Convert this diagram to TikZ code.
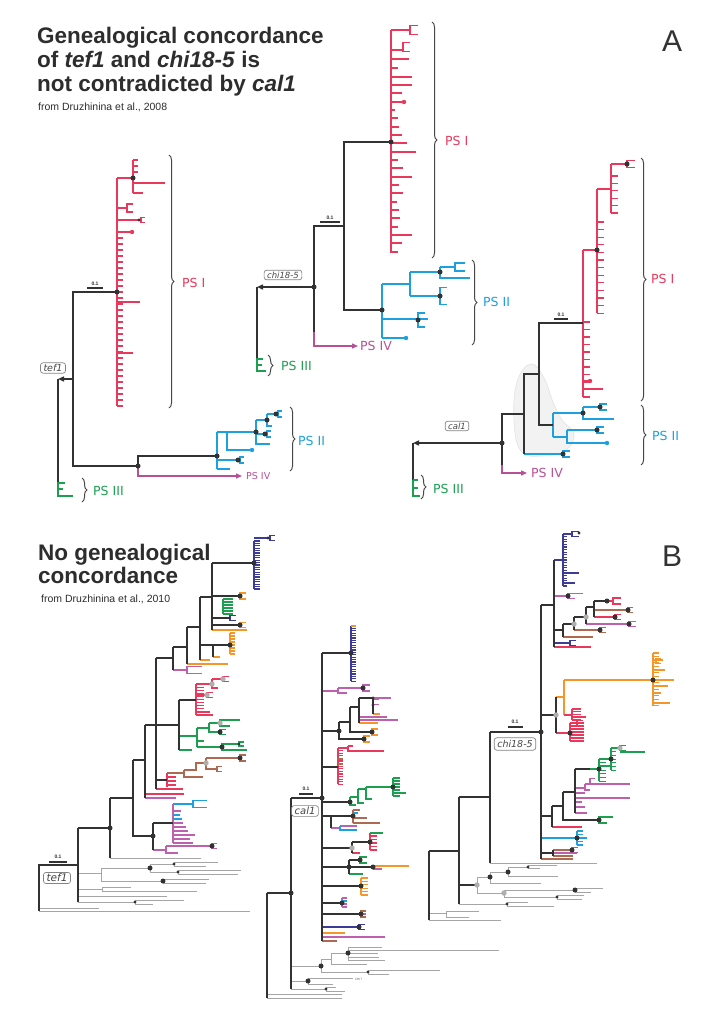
\documentclass[tikz,border=0pt]{standalone}
\usepackage{fontspec}
\setmainfont{Liberation Sans}
\newfontfamily\dv{DejaVu Sans}[ItalicFont={DejaVu Sans Oblique}]
\usetikzlibrary{arrows.meta,decorations.pathreplacing}
\definecolor{rd}{RGB}{234,56,92}
\definecolor{bl}{RGB}{28,160,222}
\definecolor{gn}{RGB}{28,160,80}
\definecolor{mg}{RGB}{184,80,150}
\definecolor{mgb}{RGB}{190,95,175}
\definecolor{org}{RGB}{247,150,40}
\definecolor{brn}{RGB}{175,105,80}
\definecolor{nv}{RGB}{60,60,150}
\definecolor{dk}{RGB}{50,50,50}
\definecolor{gy}{RGB}{165,165,165}
\definecolor{gyd}{RGB}{175,175,175}
\definecolor{lbl}{RGB}{70,70,70}
\newcommand\cmb[6]{\draw[#1] (#2,#3) -- (#2,{#3+#4*#5});\foreach \i in {0,...,#4}{\draw[#1] (#2,{#3+\i*#5}) -- ++(#6,0);}}
\newcommand\fk[5]{\draw[#1] ({#2+#5},{#3-#4}) -- (#2,{#3-#4}) -- (#2,{#3+#4}) -- ({#2+#5},{#3+#4});}
\newcommand\fkk[6]{\draw[#1] ({#2+#5},{#3-#4}) -- (#2,{#3-#4}) -- (#2,{#3+#4}) -- ({#2+#6},{#3+#4});}
\newcommand\dt[2]{\fill[dk] (#1,#2) circle (2.5pt);}
\newcommand\sdt[2]{\fill[dk] (#1,#2) circle (1.7pt);}
\newcommand\gdt[2]{\fill[gyd] (#1,#2) circle (2.7pt);}
\newcommand\cdt[3]{\fill[#1] (#2,#3) circle (2.2pt);}
\newcommand\psf{\dv\fontsize{12.5}{14}\selectfont}
\newcommand\ttl{\fontsize{22.5}{24}\selectfont\bfseries}
\begin{document}
\begin{tikzpicture}[x=1pt,y=-1pt,
  ka/.style={draw=dk,line width=1.4pt},
  ra/.style={draw=rd,line width=1.3pt},
  ba/.style={draw=bl,line width=1.3pt},
  ga/.style={draw=gn,line width=1.3pt},
  ma/.style={draw=mg,line width=1.3pt},
  kb/.style={draw=dk,line width=1.6pt},
  yb/.style={draw=gy,line width=1pt},
  rb/.style={draw=rd,line width=1.1pt},
  bb/.style={draw=bl,line width=1.1pt},
  gb/.style={draw=gn,line width=1.1pt},
  mb/.style={draw=mgb,line width=1.1pt},
  ob/.style={draw=org,line width=1.1pt},
  brb/.style={draw=brn,line width=1.1pt},
  nb/.style={draw=nv,line width=1.1pt},
  tri/.style={-{Triangle[length=6pt,width=5pt]}},
  brc/.style={draw=dk!90,line width=1pt,decorate,decoration={brace,amplitude=5pt}},
  tag/.style={draw=gy!80!black,rounded corners=2.5pt,line width=0.7pt,inner xsep=3pt,inner ysep=1.5pt,text=lbl,fill=white},
  sbar/.style={draw=dk,line width=1.2pt},
  sbt/.style={font=\bfseries\fontsize{5}{5}\selectfont,text=dk,inner sep=0pt},
  ttln/.style={anchor=base west,inner sep=0pt,text=dk!90!black}
]
\useasboundingbox (0,0) rectangle (715,1024);
\fill[white] (0,0) rectangle (715,1024);

% ================= TITLES
\node[ttln,font=\ttl] (t1) at (37,44) {Genealogical concordance};
\node[ttln,font=\ttl] (t2) at (37,68) {of \textit{tef1} and \textit{chi18-5} is};
\node[ttln,font=\ttl] (t3) at (37,92) {not contradicted by \textit{cal1}};
\node[ttln,font=\fontsize{10.5}{12}\selectfont] (s1) at (38,111) {from Druzhinina et al., 2008};
\node[font=\fontsize{30}{30}\selectfont,text=dk] (lA) at (672,41) {A};
\node[ttln,font=\ttl] (t4) at (38,560) {No genealogical};
\node[ttln,font=\ttl] (t5) at (38,583) {concordance};
\node[ttln,font=\fontsize{10.5}{12}\selectfont] (s2) at (41,602) {from Druzhinina et al., 2010};
\node[font=\fontsize{30}{30}\selectfont,text=dk] (lB) at (672,556) {B};

% ================= A1 tef1
\draw[ra] (117,178) -- (117,406);
\draw[ra] (117,178) -- (133,178);
\draw[ra] (133,160) -- (133,193);
\foreach \y/\q in {160/5,166/5,172/5,183/32,193/10} \draw[ra] (133,\y) -- ++(\q,0);
\draw[ra] (117,208) -- (127,208);
\fk{ra}{127}{208}{4}{6}
\draw[ra] (117,220) -- (139,220);
\fk{ra}{141}{220}{2.5}{4}
\sdt{139}{220}
\draw[ra] (117,232) -- (132,232);
\cdt{rd}{132}{232}
\cmb{ra}{117}{238}{28}{6}{6}
\draw[ra] (117,302) -- (140,302);
\draw[ra] (117,353) -- (133,353);
% blue
\draw[ba] (217,432) -- (217,469);
\draw[ba] (217,432) -- (227,432) -- (227,450) -- (252,450);
\draw[ba] (217,469) -- (230,469);
\draw[ba] (217,460) -- (238,460);
\fk{ba}{240}{460}{3}{4}
\draw[ba] (227,432) -- (256,432);
\draw[ba] (256,420) -- (256,444) -- (270,444);
\draw[ba] (256,420) -- (267,420);
\draw[ba] (267,414) -- (267,426) -- (272,426);
\draw[ba] (267,414) -- (276,414);
\fk{ba}{278}{414}{3}{4}
\draw[ba] (256,434) -- (265,434);
\fk{ba}{267}{434}{3}{4}
\cdt{bl}{252}{450}
% black
\draw[ka] (117,292) -- (73,292) -- (73,466) -- (138,466);
\draw[ka] (138,466) -- (138,456) -- (217,456);
\draw[ka,tri] (73,379) -- (58,379);
\draw[ka] (58,379) -- (58,482);
\draw[ga] (58,482) -- (58,497);
\foreach \y/\q in {483/7,489/5,496/15} \draw[ga] (58,\y) -- ++(\q,0);
\draw[ma,tri] (138,466) -- (138,476) -- (242,476);
\foreach \p in {(117,292),(138,466),(133,178),(217,456),(238,460),(256,432),(267,420),(276,414),(265,434)} \fill[dk] \p circle (2.5pt);
\draw[sbar] (87,288) -- (103,288);
\node[sbt] (sb1) at (95,284) {0.1};
\node[tag,font=\dv\itshape\fontsize{9.5}{10}\selectfont] (tef1a) at (53,368) {tef1};
\draw[brc] (169,155) -- (169,408);
\node[anchor=west,text=rd,font=\psf,inner sep=0pt] (ps1a) at (182,283) {PS I};
\draw[brc] (290,407) -- (290,471);
\node[anchor=west,text=bl,font=\psf,inner sep=0pt] (ps2a) at (298,441) {PS II};
\draw[brc] (82,478) -- (82,502);
\node[anchor=west,text=gn,font=\psf,inner sep=0pt] (ps3a) at (93,491) {PS III};
\node[anchor=west,text=mg,font=\dv\fontsize{9.5}{11}\selectfont,inner sep=0pt] (ps4a) at (246,476) {PS IV};

% ================= A2 chi18-5
\draw[ra] (391,30) -- (391,253);
\draw[ra] (391,30) -- (410,30);
\fk{ra}{410}{30}{4.5}{8}
\draw[ra] (391,50) -- (403,50);
\fk{ra}{403}{47}{4.5}{7}
\foreach \y/\q in {59/18,68/7,77/21,85/21,93/11,102/13,110/4,118/7,127/8,135/11,143/16,152/25,160/7,168/12,177/21,185/8,193/12,202/6,210/8,218/9,227/7,235/21,243/11,252/7} \draw[ra] (391,\y) -- ++(\q,0);
\cdt{rd}{404}{102}
% blue
\draw[ba] (382,284) -- (382,338);
\draw[ba] (382,284) -- (410,284);
\draw[ba] (382,319) -- (428,319);
\fk{ba}{418}{320}{7}{7}
\draw[ba] (382,338) -- (406,338);
\cdt{bl}{406}{338}
\draw[ba] (410,272) -- (410,296);
\draw[ba] (410,272) -- (440,272);
\draw[ba] (410,296) -- (440,296);
\draw[ba] (440,267) -- (440,278) -- (470,278);
\draw[ba] (440,267) -- (455,267);
\fk{ba}{455}{267}{4}{10}
\fk{ba}{440}{296}{8.5}{7}
% black
\draw[ka] (391,142) -- (344,142) -- (344,310) -- (382,310);
\draw[ka] (344,226) -- (314,226) -- (314,332);
\draw[ma,tri] (314,332) -- (314,346) -- (358,346);
\draw[ka,tri] (314,287) -- (257,287);
\draw[ka] (257,287) -- (257,358);
\draw[ga] (257,358) -- (257,372);
\foreach \y/\q in {359/6,365/5,371/9} \draw[ga] (257,\y) -- ++(\q,0);
\foreach \p in {(391,142),(382,310),(314,287),(418,320),(440,272),(440,296)} \fill[dk] \p circle (2.5pt);
\draw[sbar] (320,222) -- (340,222);
\node[sbt] (sb2) at (330,218) {0.1};
\node[tag,font=\dv\itshape\fontsize{8.5}{9}\selectfont] (chia) at (283,275) {chi18-5};
\draw[brc] (432,22) -- (432,258);
\node[anchor=west,text=rd,font=\psf,inner sep=0pt] (ps1b) at (445,141) {PS I};
\draw[brc] (472,260) -- (472,345);
\node[anchor=west,text=bl,font=\psf,inner sep=0pt] (ps2b) at (483,302) {PS II};
\draw[brc] (268,355) -- (268,376);
\node[anchor=west,text=gn,font=\psf,inner sep=0pt] (ps3b) at (281,366) {PS III};
\node[anchor=west,text=mg,font=\psf,inner sep=0pt] (ps4b) at (360,346) {PS IV};

% ================= A3 cal1
\fill[gray!10,draw=gray!22,line width=0.6pt] plot[smooth cycle,tension=0.7] coordinates {(531,364) (544,378) (553,402) (562,420) (574,434) (566,450) (543,456) (521,451) (514,420) (517,382)};
\draw[ra] (583,250) -- (583,397);
\draw[ra] (583,250) -- (597,250);
\draw[ra] (597,189) -- (597,313);
\cmb{ra}{597}{222}{12}{7.6}{7}
\draw[ra] (597,189) -- (611,189);
\draw[ra] (611,164) -- (611,213);
\cmb{ra}{611}{176}{5}{7.4}{7}
\draw[ra] (611,164) -- (627,164);
\fk{ra}{627}{164}{3.5}{8}
\cmb{ra}{583}{322}{10}{7.5}{7}
\draw[ra] (583,381) -- (590,381);
\cdt{rd}{590}{381}
\draw[ra] (583,389) -- (603,389);
% blue
\draw[ba] (553,413) -- (553,437);
\draw[ba] (553,413) -- (583,413);
\draw[ba] (583,407) -- (583,419) -- (614,419);
\draw[ba] (583,407) -- (600,407);
\fk{ba}{600}{407}{3}{7}
\draw[ba] (553,437) -- (567,437);
\draw[ba] (567,430) -- (567,443) -- (607,443);
\draw[ba] (567,430) -- (597,430);
\fk{ba}{597}{430}{3}{7}
\cdt{bl}{607}{443}
\draw[ba] (524,454) -- (563,454);
\fk{ba}{563}{454}{3}{7}
% black
\draw[ka] (583,323) -- (539,323) -- (539,425) -- (553,425);
\draw[ka] (539,374) -- (524,374) -- (524,454);
\draw[ka] (524,414) -- (502,414) -- (502,465);
\draw[ma,tri] (502,465) -- (502,473) -- (527,473);
\draw[ka,tri] (502,443) -- (413,443);
\draw[ka] (413,443) -- (413,480);
\draw[ga] (413,480) -- (413,497);
\foreach \y/\q in {480/5,488/5,496/7} \draw[ga] (413,\y) -- ++(\q,0);
\foreach \p in {(597,250),(627,164),(583,413),(600,407),(597,430),(563,454),(502,443)} \fill[dk] \p circle (2.5pt);
\draw[sbar] (554,319) -- (568,319);
\node[sbt] (sb3) at (561,315) {0.1};
\node[tag,font=\dv\itshape\fontsize{8.5}{9}\selectfont] (cala) at (457,426) {cal1};
\draw[brc] (641,158) -- (641,401);
\node[anchor=west,text=rd,font=\psf,inner sep=0pt] (ps1c) at (651,279) {PS I};
\draw[brc] (641,405) -- (641,465);
\node[anchor=west,text=bl,font=\psf,inner sep=0pt] (ps2c) at (652,436) {PS II};
\draw[brc] (421,475) -- (421,499);
\node[anchor=west,text=gn,font=\psf,inner sep=0pt] (ps3c) at (433,489) {PS III};
\node[anchor=west,text=mg,font=\psf,inner sep=0pt] (ps4c) at (531,473) {PS IV};

% ================= B1 tef1
\draw[yb] (39,911) -- (250,911);
\draw[yb] (39,908) -- (99,908);
\draw[yb] (78,873) -- (101,873);
\draw[yb] (101,868) -- (101,881);
\draw[yb] (101,868) -- (150,868);
\draw[yb] (101,881) -- (163,881);
\draw[yb] (150,864) -- (150,872);
\draw[yb] (150,864) -- (174,864);
\draw[yb] (150,872) -- (178,872);
\fkk{yb}{174}{864}{2}{44}{32}
\fkk{yb}{178}{872}{2}{63}{60}
\fkk{yb}{163}{881}{2}{46}{43}
\draw[yb] (78,889) -- (102,889);
\fkk{yb}{102}{889}{2}{29}{95}
\draw[yb] (78,896) -- (167,896);
\draw[yb] (78,902) -- (135,902);
\fkk{yb}{135}{902}{2}{49}{18}
\draw[yb] (110,858) -- (201,858);
\draw[rb] (156,789) -- (183,789);
\draw[rb] (145,794) -- (184,794);
\draw[mb] (145,798) -- (176,798);
\draw[rb] (167,773) -- (167,787);
\foreach \y in {777,781,785} \draw[rb] (167,\y) -- ++(9,0);
\draw[brb] (167,773) -- (184,773);
\draw[brb] (184,770) -- (184,777) -- (203,777);
\draw[brb] (184,770) -- (196,770) -- (196,763) -- (206,763);
\draw[brb] (206,758) -- (206,769) -- (217,769);
\draw[brb] (206,758) -- (240,758);
\fk{brb}{240}{758}{3}{6}
\fk{brb}{217}{769}{2.5}{5}
\cmb{rb}{196}{684}{10}{3.1}{8}
\draw[rb] (196,712) -- (210,712);
\draw[rb] (196,715) -- (213,715);
\draw[rb] (196,684) -- (212,684);
\draw[rb] (212,679) -- (212,688) -- (218,688);
\draw[rb] (212,679) -- (223,679);
\fk{rb}{223}{679}{2.5}{6}
\draw[rb] (196,695) -- (207,695);
\fk{rb}{207}{695}{2.5}{6}
\draw[gb] (179,736) -- (197,736);
\draw[gb] (179,750) -- (192,750);
\draw[gb] (197,728) -- (197,747);
\draw[gb] (197,741) -- (204,741);
\draw[gb] (197,728) -- (209,728);
\draw[gb] (209,723) -- (209,732) -- (220,732);
\draw[gb] (209,723) -- (220,723);
\fkk{gb}{220}{723}{3}{20}{10}
\fk{gb}{220}{732}{2.5}{6}
\draw[gb] (197,747) -- (222,747);
\fkk{gb}{222}{747}{3}{17}{25}
\fk{gb}{239}{744}{2}{5}
\cmb{gb}{223}{599}{5}{3}{10}
\fk{ob}{240}{596}{3}{6}
\fk{nb}{230}{618}{2.5}{6}
\fk{ob}{240}{625}{2.5}{6}
\draw[ob] (212,630) -- (247,630);
\cmb{ob}{230}{633}{7}{3}{5}
\draw[ob] (213,657) -- (220,657);
\draw[ob] (200,660) -- (210,660);
\draw[ob] (187,664) -- (228,664);
\draw[mb] (173,670) -- (187,670);
\fk{mb}{187}{670}{3.5}{15}
\cmb{nb}{254}{541}{20}{2.4}{6}
\draw[nb] (254,538) -- (268,538);
\fk{nb}{270}{538}{2.5}{5}
\draw[mb] (173,804) -- (173,843);
\draw[bb] (173,804) -- (193,804);
\fk{bb}{193}{804}{3.5}{14}
\foreach \y/\q in {811/8,823/10,827/13,831/15,835/22,839/17,843/20} \draw[mb] (173,\y) -- ++(\q,0);
\foreach \y/\q in {815/7,819/9} \draw[bb] (173,\y) -- ++(\q,0);
\draw[mb] (153,850) -- (166,850);
\draw[mb] (166,846) -- (166,853) -- (178,853);
\draw[mb] (166,846) -- (212,846);
\fk{mb}{212}{846}{2.5}{5}
\draw[kb] (78,865) -- (39,865) -- (39,911);
\draw[kb] (78,828) -- (78,902);
\draw[kb] (78,828) -- (110,828);
\draw[kb] (110,798) -- (110,858);
\draw[kb] (110,798) -- (133,798);
\draw[kb] (133,760) -- (133,836) -- (153,836);
\draw[kb] (133,760) -- (145,760);
\draw[kb] (145,725) -- (145,798);
\draw[kb] (145,725) -- (179,725);
\draw[kb] (156,658) -- (156,789);
\draw[kb] (156,780) -- (167,780);
\draw[kb] (156,658) -- (173,658);
\draw[kb] (173,647) -- (173,670);
\draw[kb] (173,647) -- (187,647);
\draw[kb] (187,627) -- (187,664);
\draw[kb] (187,627) -- (200,627);
\draw[kb] (200,597) -- (200,660);
\draw[kb] (200,645) -- (213,645) -- (213,657);
\draw[kb] (213,645) -- (230,645);
\draw[kb] (200,597) -- (212,597);
\draw[kb] (212,563) -- (212,630);
\draw[kb] (212,563) -- (254,563);
\draw[kb] (212,596) -- (240,596);
\draw[kb] (212,618) -- (230,618);
\draw[kb] (212,625) -- (240,625);
\draw[kb] (153,823) -- (153,850);
\draw[kb] (153,823) -- (173,823);
\draw[kb] (179,700) -- (179,750);
\draw[kb] (179,700) -- (196,700);
\foreach \p in {(254,563),(240,596),(240,625),(230,645),(220,732),(222,747),(240,758),(212,846),(153,836),(110,828),(150,868),(163,881)} \fill[dk] \p circle (2.5pt);
\foreach \p in {(174,864),(178,872),(135,902),(268,538),(239,744)} \fill[dk] \p circle (1.7pt);
\foreach \p in {(212,684),(223,679),(207,695),(220,723),(206,763)} \fill[gyd] \p circle (2.7pt);
\draw[sbar] (49,862) -- (67,862);
\node[sbt] (sb4) at (58,857) {0.1};
\node[tag,font=\dv\itshape\fontsize{10.5}{11}\selectfont] (tef1b) at (57,878) {tef1};

% ================= B2 cal1
\draw[yb] (267,994) -- (342,994);
\draw[yb] (267,998) -- (342,998);
\draw[yb] (291,989) -- (326,989);
\fkk{yb}{326}{989}{2}{10}{19}
\draw[yb] (291,966) -- (321,966);
\draw[yb] (291,981) -- (308,981);
\draw[yb] (321,959) -- (321,972);
\draw[yb] (321,959) -- (331,959);
\draw[yb] (321,972) -- (368,972);
\fkk{yb}{368}{972}{2}{72}{21}
\draw[yb] (331,953) -- (331,964) -- (367,964);
\draw[yb] (331,953) -- (348,953);
\draw[yb] (348,947) -- (348,960);
\foreach \y/\q in {947/34,950/151,953/30,957/31,960/37} \draw[yb] (348,\y) -- ++(\q,0);
\draw[yb] (308,978) -- (308,984) -- (333,984);
\draw[yb] (308,978) -- (353,978);
\node[font=\fontsize{4}{4}\selectfont,text=gray,inner sep=0pt,anchor=west] (ceri) at (355,979) {ceri};
\cmb{nb}{351}{626}{23}{2.4}{5}
\draw[ob] (351,626) -- (356,626);
\draw[mb] (322,691) -- (338,691);
\draw[mb] (338,688) -- (338,693) -- (347,693);
\draw[mb] (338,688) -- (363,688);
\fk{mb}{363}{688}{3}{7}
\fk{ob}{364}{739}{3}{6}
\fk{ob}{372}{732}{3}{6}
\draw[mb] (373,698) -- (391,698);
\fk{mb}{373}{702}{2.5}{6}
\draw[ob] (373,714) -- (380,714);
\draw[mb] (359,717) -- (387,717);
\draw[mb] (359,720) -- (398,720);
\draw[ob] (359,723) -- (378,723);
\cmb{rb}{338}{748}{14}{2.6}{5}
\foreach \y in {759,764} \draw[brb] (338,\y) -- ++(5,0);
\draw[rb] (338,748) -- (348,748);
\draw[rb] (348,746) -- (348,751) -- (384,751);
\draw[rb] (348,746) -- (353,746);
\draw[gb] (350,797) -- (350,805) -- (356,805);
\draw[gb] (350,797) -- (358,797);
\draw[gb] (358,789) -- (358,803) -- (364,803);
\draw[gb] (358,789) -- (366,789);
\draw[gb] (366,787) -- (366,799) -- (372,799);
\draw[gb] (366,787) -- (393,787);
\cmb{gb}{393}{778}{6}{3}{7}
\draw[gb] (393,793) -- (406,793);
\draw[brb] (353,810) -- (353,823);
\draw[brb] (353,810) -- (360,810);
\draw[bb] (353,813) -- (358,813);
\draw[brb] (353,818) -- (367,818);
\draw[brb] (353,823) -- (380,823);
\draw[mb] (331,828) -- (340,828);
\draw[mb] (340,826) -- (357,826);
\draw[bb] (340,826) -- (340,830) -- (357,830);
\draw[gb] (370,833) -- (383,833);
\draw[rb] (370,833) -- (370,850);
\cmb{rb}{370}{836}{4}{3.5}{7}
\draw[rb] (352,853) -- (360,853);
\fk{gb}{360}{860}{3}{7}
\draw[ob] (373,866) -- (409,866);
\draw[mb] (373,869) -- (382,869);
\draw[gb] (349,874) -- (363,874);
\cmb{ob}{361}{878}{5}{3.4}{7}
\draw[mb] (342,898) -- (342,907);
\foreach \y in {898,904,907} \draw[mb] (342,\y) -- ++(5,0);
\draw[bb] (342,901) -- ++(5,0);
\fk{brb}{361}{914}{3}{5}
\draw[mb] (361,914) -- (366,914);
\fk{nb}{359}{927}{2.5}{6}
\draw[nb] (322,927) -- (359,927);
\draw[ob] (322,933) -- (345,933);
\draw[mb] (322,937) -- (385,937);
\draw[brb] (322,941) -- (337,941);
\draw[kb] (267,893) -- (267,998);
\draw[kb] (267,893) -- (291,893);
\draw[kb] (291,798) -- (291,989);
\draw[kb] (291,798) -- (322,798);
\draw[kb] (322,653) -- (322,941);
\draw[kb] (322,653) -- (351,653);
\draw[kb] (322,731) -- (339,731);
\draw[kb] (339,722) -- (339,739) -- (364,739);
\draw[kb] (339,722) -- (350,722);
\draw[kb] (350,707) -- (350,732) -- (372,732);
\draw[kb] (350,707) -- (359,707);
\draw[kb] (359,698) -- (359,723);
\draw[kb] (359,698) -- (373,698) -- (373,714);
\draw[kb] (322,767) -- (338,767);
\draw[kb] (322,802) -- (350,802);
\draw[kb] (322,816) -- (331,816) -- (331,828);
\draw[kb] (331,816) -- (353,816);
\draw[kb] (322,848) -- (352,848);
\draw[kb] (352,842) -- (352,853);
\draw[kb] (352,842) -- (370,842);
\draw[kb] (322,867) -- (349,867);
\draw[kb] (349,860) -- (349,874);
\draw[kb] (349,860) -- (360,860);
\draw[kb] (349,867) -- (373,867);
\draw[kb] (322,886) -- (361,886);
\draw[kb] (322,903) -- (342,903);
\draw[kb] (322,914) -- (361,914);
\foreach \p in {(291,893),(322,798),(351,653),(363,688),(339,731),(364,739),(372,732),(350,802),(393,787),(353,816),(370,842),(349,867),(360,860),(373,867),(361,886),(342,903),(361,914),(359,927),(321,966),(308,981),(348,953)} \fill[dk] \p circle (2.5pt);
\foreach \p in {(373,698),(373,705),(368,972),(326,989)} \fill[dk] \p circle (1.7pt);
\gdt{352}{848}
\draw[sbar] (299,794) -- (313,794);
\node[sbt] (sb5) at (306,789) {0.1};
\node[tag,font=\dv\itshape\fontsize{10}{11}\selectfont] (calb) at (305,811) {cal1};

% ================= B3 chi18-5
\draw[yb] (429,920) -- (501,920);
\draw[yb] (429,913) -- (446,913);
\fkk{yb}{446}{914}{3}{33}{23}
\draw[yb] (459,904) -- (507,904);
\fkk{yb}{507}{904}{2}{21}{47}
\draw[yb] (477,877) -- (477,893);
\draw[yb] (477,877) -- (490,877);
\draw[yb] (490,872) -- (490,883) -- (541,883);
\draw[yb] (490,872) -- (508,872);
\draw[yb] (508,867) -- (508,876) -- (558,876);
\draw[yb] (508,867) -- (528,867);
\fkk{yb}{528}{867}{1.8}{29}{12}
\draw[yb] (477,893) -- (504,893);
\draw[yb] (504,890) -- (504,897);
\draw[yb] (504,890) -- (575,890);
\fkk{yb}{575}{890}{2}{28}{16}
\draw[yb] (504,897) -- (557,897);
\fkk{yb}{557}{897}{2}{27}{25}
\draw[yb] (490,863) -- (597,863);
\cmb{nb}{563}{534}{20}{2.6}{4}
\draw[nb] (563,573) -- (579,573);
\draw[nb] (563,583) -- (575,583);
\draw[nb] (554,560) -- (563,560);
\draw[nb] (563,534) -- (572,534);
\fk{nb}{572}{534}{2.5}{7}
\draw[mb] (554,596) -- (568,596);
\fkk{mb}{568}{596}{2.5}{15}{7}
\draw[rb] (607,601) -- (613,601);
\fk{rb}{613}{601}{3}{8}
\draw[brb] (594,610) -- (628,610);
\fk{brb}{628}{610}{2.5}{5}
\draw[rb] (594,617) -- (615,617);
\fk{rb}{615}{617}{2.5}{6}
\draw[mb] (586,624) -- (629,624);
\fk{mb}{629}{624}{2.5}{7}
\draw[brb] (574,630) -- (600,630);
\fk{brb}{600}{630}{2.5}{6}
\draw[brb] (563,637) -- (593,637);
\draw[nb] (554,643) -- (570,643);
\fk{nb}{570}{643}{2.5}{6}
\draw[rb] (554,647) -- (591,647);
\draw[ob] (556,697) -- (564,697);
\draw[ob] (564,680) -- (564,715);
\draw[ob] (564,680) -- (653,680);
\draw[ob] (653,680) -- (674,680);
\cmb{ob}{653}{653}{16}{3.3}{6}
\foreach \y/\q in {660/10,670/12,686/15,693/8,703/17} \draw[ob] (653,\y) -- ++(\q,0);
\fk{ob}{656}{661}{2.5}{5}
\draw[rb] (564,715) -- (572,715);
\cmb{rb}{572}{709}{4}{2.75}{9}
\draw[rb] (572,717) -- (586,717);
\draw[rb] (556,733) -- (570,733);
\cmb{rb}{570}{723}{6}{3}{14}
\fk{rb}{577}{723}{2.5}{6}
\draw[rb] (552,827) -- (582,827);
\fkk{gb}{599}{820}{3}{14}{8}
\draw[gb] (590,769) -- (599,769);
\cmb{gb}{599}{759}{6}{3.7}{7}
\draw[gb] (599,766) -- (611,766);
\draw[gb] (599,759) -- (611,759);
\cmb{gb}{611}{748}{6}{3.7}{5}
\draw[gb] (611,748) -- (620,748);
\fk{gb}{620}{748}{2.5}{6}
\draw[gb] (620,752) -- (645,752);
\draw[mb] (575,788) -- (585,788);
\draw[mb] (585,784) -- (585,790) -- (590,790);
\draw[mb] (585,784) -- (630,784);
\fk{mb}{590}{781}{2.5}{5}
\draw[mb] (575,798) -- (630,798);
\foreach \y/\q in {793/10,802/7,807/10,813/12} \draw[mb] (575,\y) -- ++(\q,0);
\draw[bb] (541,838) -- (577,838);
\cmb{bb}{577}{831}{4}{3.5}{6}
\draw[bb] (577,838) -- (587,838);
\draw[brb] (553,850) -- (572,850);
\fk{brb}{572}{850}{2.5}{6}
\draw[mb] (553,853) -- (577,853);
\draw[brb] (553,856) -- (573,856);
\draw[brb] (541,859) -- (573,859);
\draw[kb] (429,851) -- (429,920);
\draw[kb] (429,851) -- (459,851);
\draw[kb] (459,797) -- (459,904);
\draw[kb] (459,797) -- (490,797);
\draw[kb] (459,885) -- (477,885);
\draw[kb] (490,732) -- (490,863);
\draw[kb] (490,732) -- (541,732);
\draw[kb] (541,605) -- (541,859);
\draw[kb] (541,605) -- (554,605);
\draw[kb] (554,560) -- (554,647);
\draw[kb] (554,630) -- (563,630);
\draw[kb] (563,624) -- (563,637);
\draw[kb] (563,624) -- (574,624);
\draw[kb] (574,617) -- (574,630);
\draw[kb] (574,617) -- (586,617);
\draw[kb] (586,607) -- (586,624);
\draw[kb] (586,607) -- (594,607);
\draw[kb] (594,601) -- (594,617);
\draw[kb] (594,601) -- (607,601);
\draw[kb] (541,715) -- (556,715);
\draw[kb] (556,697) -- (556,733);
\draw[kb] (541,816) -- (552,816);
\draw[kb] (552,806) -- (552,827);
\draw[kb] (552,806) -- (563,806);
\draw[kb] (563,792) -- (563,820) -- (599,820);
\draw[kb] (563,792) -- (575,792);
\draw[kb] (575,769) -- (575,813);
\draw[kb] (575,769) -- (590,769);
\draw[kb] (541,853) -- (553,853);
\draw[kb] (553,850) -- (553,856);
\foreach \p in {(541,732),(607,601),(615,617),(628,610),(629,624),(600,630),(568,596),(653,680),(570,733),(599,820),(599,769),(611,759),(577,838),(572,850),(490,877),(508,872),(575,890)} \fill[dk] \p circle (2.5pt);
\foreach \p in {(579,533),(528,867),(507,904),(557,897)} \fill[dk] \p circle (1.7pt);
\foreach \p in {(574,624),(586,617),(556,715),(620,748),(477,885),(504,893)} \fill[gyd] \p circle (2.7pt);
\draw[sbar] (508,727) -- (523,727);
\node[sbt] (sb6) at (515,722) {0.1};
\node[tag,font=\dv\itshape\fontsize{9.5}{10}\selectfont,inner ysep=2.5pt] (chib) at (515,744) {chi18-5};
\end{tikzpicture}
\end{document}
